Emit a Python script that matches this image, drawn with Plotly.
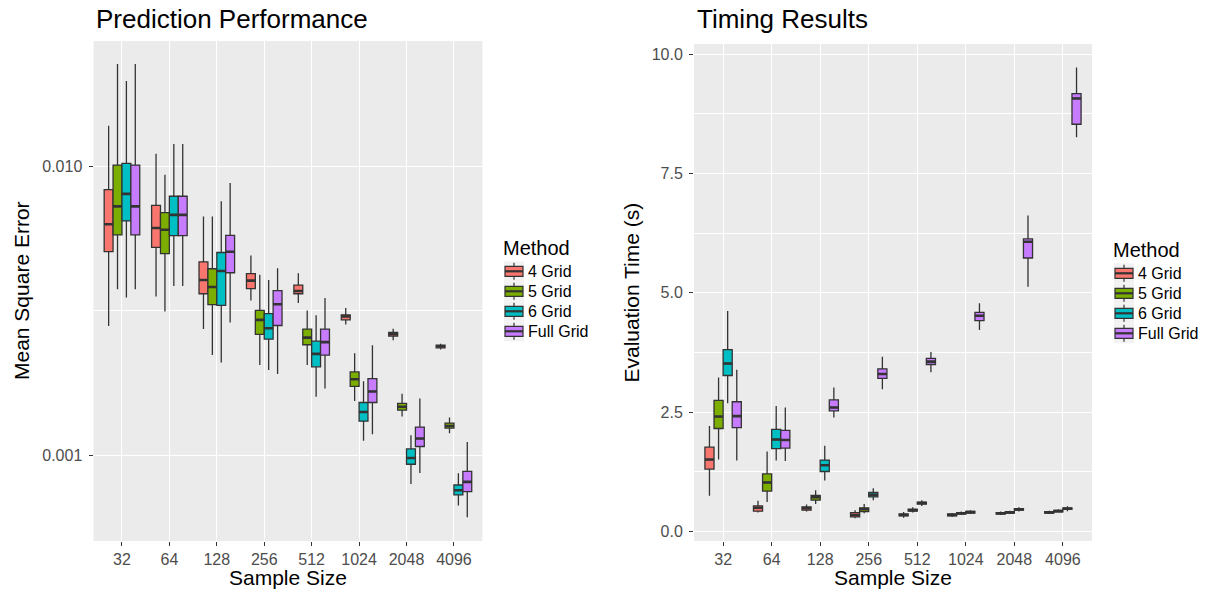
import plotly.graph_objects as go

# ---------------- data ----------------
SIZES = ["32", "64", "128", "256", "512", "1024", "2048", "4096"]
METHODS = ["4 Grid", "5 Grid", "6 Grid", "Full Grid"]
COLORS = ["#F8766D", "#7CAE00", "#00BFC4", "#C77CFF"]

# Mean square error box statistics, one row per method (order of METHODS)
MSE_LOW = [
    [0.00280, 0.00354, 0.00273, 0.00343, 0.00336, 0.00283, 0.00250, 0.00232],
    [0.00375, 0.00314, 0.00222, 0.00205, 0.00205, 0.00154, 0.00136, 0.00119],
    [0.00351, 0.00385, 0.00209, 0.00197, 0.00159, 0.00112, 0.000794, 0.000668],
    [0.00375, 0.00385, 0.00288, 0.00191, 0.00170, 0.00118, 0.000867, 0.000609],
]
MSE_Q1 = [
    [0.00507, 0.00524, 0.00362, 0.00377, 0.00362, 0.00294, 0.00258, 0.00235],
    [0.00579, 0.00499, 0.00332, 0.00262, 0.00241, 0.00173, 0.00143, 0.00124],
    [0.00647, 0.00576, 0.00330, 0.00252, 0.00202, 0.00131, 0.000929, 0.000727],
    [0.00579, 0.00576, 0.00428, 0.00281, 0.00222, 0.00152, 0.00107, 0.000746],
]
MSE_MED = [
    [0.00630, 0.00612, 0.00404, 0.00402, 0.00370, 0.00302, 0.00262, 0.00238],
    [0.00727, 0.00603, 0.00382, 0.00294, 0.00255, 0.00183, 0.00147, 0.00126],
    [0.00803, 0.00679, 0.00434, 0.00275, 0.00224, 0.00141, 0.000976, 0.000755],
    [0.00727, 0.00679, 0.00506, 0.00333, 0.00246, 0.00166, 0.00114, 0.000807],
]
MSE_Q3 = [
    [0.00831, 0.00733, 0.00467, 0.00425, 0.00388, 0.00306, 0.00266, 0.00240],
    [0.01011, 0.00692, 0.00442, 0.00317, 0.00273, 0.00194, 0.00151, 0.00129],
    [0.01024, 0.00788, 0.00503, 0.00309, 0.00248, 0.00152, 0.00105, 0.000787],
    [0.01011, 0.00788, 0.00577, 0.00371, 0.00273, 0.00184, 0.00125, 0.000878],
]
MSE_UP = [
    [0.01383, 0.01106, 0.00670, 0.00491, 0.00426, 0.00323, 0.00274, 0.00243],
    [0.02265, 0.00936, 0.00670, 0.00421, 0.00317, 0.00225, 0.00163, 0.00135],
    [0.01978, 0.01195, 0.00757, 0.00404, 0.00305, 0.00180, 0.00117, 0.000865],
    [0.02265, 0.01195, 0.00876, 0.00444, 0.00350, 0.00240, 0.00157, 0.00111],
]

# Evaluation time (s) box statistics
TIME_LOW = [
    [0.75, 0.40, 0.42, 0.28, 0.29, 0.31, 0.35, 0.37],
    [1.51, 0.62, 0.58, 0.385, 0.40, 0.35, 0.37, 0.40],
    [2.69, 1.49, 1.07, 0.66, 0.54, 0.37, 0.42, 0.43],
    [1.49, 1.48, 2.39, 2.98, 3.34, 4.22, 5.13, 8.26],
]
TIME_Q1 = [
    [1.31, 0.43, 0.45, 0.31, 0.33, 0.33, 0.37, 0.39],
    [2.16, 0.85, 0.66, 0.42, 0.43, 0.37, 0.39, 0.415],
    [3.27, 1.74, 1.26, 0.73, 0.58, 0.39, 0.45, 0.465],
    [2.18, 1.75, 2.53, 3.21, 3.50, 4.42, 5.73, 8.53],
]
TIME_MED = [
    [1.51, 0.50, 0.49, 0.35, 0.35, 0.35, 0.385, 0.405],
    [2.41, 1.03, 0.72, 0.47, 0.45, 0.385, 0.405, 0.43],
    [3.52, 1.93, 1.39, 0.77, 0.60, 0.41, 0.465, 0.48],
    [2.42, 1.92, 2.60, 3.30, 3.56, 4.52, 6.07, 9.07],
]
TIME_Q3 = [
    [1.77, 0.54, 0.52, 0.40, 0.37, 0.37, 0.40, 0.42],
    [2.75, 1.21, 0.76, 0.50, 0.47, 0.40, 0.42, 0.445],
    [3.81, 2.14, 1.50, 0.82, 0.62, 0.425, 0.48, 0.50],
    [2.72, 2.12, 2.76, 3.41, 3.63, 4.59, 6.13, 9.17],
]
TIME_UP = [
    [2.21, 0.65, 0.57, 0.45, 0.41, 0.39, 0.42, 0.44],
    [3.23, 1.68, 0.87, 0.58, 0.51, 0.42, 0.44, 0.47],
    [4.62, 2.63, 1.80, 0.91, 0.66, 0.45, 0.51, 0.53],
    [3.39, 2.60, 3.02, 3.66, 3.76, 4.78, 6.62, 9.72],
]

MSE_TICKS = [0.001, 0.01]
MSE_TICKTEXT = ["0.001", "0.010"]
TIME_TICKS = [0, 2.5, 5, 7.5, 10]
TIME_TICKTEXT = ["0.0", "2.5", "5.0", "7.5", "10.0"]

# ---------------- figure ----------------
W, H = 1216, 598
EDGE = "#333333"
FONT = "Liberation Sans, Arial, sans-serif"
fig = go.Figure()


def add_panel(low, q1, med, q3, up, xa, ya, ag):
    for i, m in enumerate(METHODS):
        fig.add_trace(go.Box(
            x=SIZES, q1=q1[i], median=med[i], q3=q3[i],
            lowerfence=low[i], upperfence=up[i],
            name=m, fillcolor=COLORS[i],
            line=dict(color=EDGE, width=1.3), whiskerwidth=0,
            boxpoints=False, offsetgroup=m, alignmentgroup=ag,
            xaxis=xa, yaxis=ya, showlegend=False, hoverinfo="skip",
        ))
    # thicker median bars (ggplot fatten)
    for i, m in enumerate(METHODS):
        fig.add_trace(go.Box(
            x=SIZES, q1=med[i], median=med[i], q3=med[i],
            lowerfence=med[i], upperfence=med[i],
            name=m, fillcolor="rgba(0,0,0,0)",
            line=dict(color=EDGE, width=2.6), whiskerwidth=0,
            boxpoints=False, offsetgroup=m, alignmentgroup=ag,
            xaxis=xa, yaxis=ya, showlegend=False, hoverinfo="skip",
        ))


add_panel(MSE_LOW, MSE_Q1, MSE_MED, MSE_Q3, MSE_UP, "x", "y", "L")
add_panel(TIME_LOW, TIME_Q1, TIME_MED, TIME_Q3, TIME_UP, "x2", "y2", "R")


def px_x(p):
    return p / W


def px_y(p):
    return 1 - p / H


xcommon = dict(
    type="category", range=[-0.6, 7.6], showgrid=True, gridcolor="white",
    gridwidth=1.2, zeroline=False, showline=False, ticks="outside",
    ticklen=4, tickwidth=1.1, tickcolor=EDGE,
    tickfont=dict(family=FONT, size=16, color="#4D4D4D"),
    fixedrange=True,
)
ycommon = dict(
    showgrid=True, gridcolor="white", gridwidth=1.2, zeroline=False,
    showline=False, ticks="outside", ticklen=4, tickwidth=1.1, tickcolor=EDGE,
    tickfont=dict(family=FONT, size=16, color="#4D4D4D"),
    ticklabelstandoff=3, fixedrange=True,
)

fig.update_layout(
    width=W, height=H,
    margin=dict(l=0, r=0, t=0, b=0),
    paper_bgcolor="white", plot_bgcolor="#EBEBEB",
    font=dict(family=FONT, color="black"),
    showlegend=False,
    boxmode="group", boxgap=0.25, boxgroupgap=0.0,
    xaxis=dict(domain=[px_x(93.5), px_x(482.4)], anchor="y", **xcommon),
    xaxis2=dict(domain=[px_x(694.0), px_x(1092.0)], anchor="y2", **xcommon),
    yaxis=dict(
        domain=[px_y(541), px_y(41)], anchor="x", type="log",
        range=[-3.298, -1.5655], tickmode="array",
        tickvals=MSE_TICKS, ticktext=MSE_TICKTEXT,
        minor=dict(tickmode="array", tickvals=[0.00316228], showgrid=True,
                   gridcolor="white", gridwidth=0.6, ticks=""),
        **ycommon,
    ),
    yaxis2=dict(
        domain=[px_y(541), px_y(44)], anchor="x2",
        range=[-0.195, 10.21], tickmode="array",
        tickvals=TIME_TICKS, ticktext=TIME_TICKTEXT,
        minor=dict(tickmode="array", tickvals=[1.25, 3.75, 6.25, 8.75], showgrid=True,
                   gridcolor="white", gridwidth=0.6, ticks=""),
        **ycommon,
    ),
)

annots = [
    dict(text="Prediction Performance", x=px_x(94), y=px_y(19), xanchor="left",
         yanchor="middle", font=dict(size=26)),
    dict(text="Timing Results", x=px_x(695), y=px_y(19), xanchor="left",
         yanchor="middle", font=dict(size=26)),
    dict(text="Sample Size", x=px_x(288), y=px_y(577), xanchor="center",
         yanchor="middle", font=dict(size=21)),
    dict(text="Sample Size", x=px_x(893), y=px_y(577), xanchor="center",
         yanchor="middle", font=dict(size=21)),
    dict(text="Mean Square Error", x=px_x(21), y=px_y(291), xanchor="center",
         yanchor="middle", textangle=-90, font=dict(size=21)),
    dict(text="Evaluation Time (s)", x=px_x(631), y=px_y(292.5), xanchor="center",
         yanchor="middle", textangle=-90, font=dict(size=21)),
]

# ---- ggplot-style legends (key glyphs + labels) ----
shapes = []
LEGENDS = [(502.3, 248.0), (1112.3, 250.0)]  # (title left x, title centre y) in px
for (lx, ty) in LEGENDS:
    annots.append(dict(text="Method", x=px_x(lx - 1), y=px_y(ty), xanchor="left",
                       yanchor="middle", font=dict(size=20)))
    for i, m in enumerate(METHODS):
        cy = ty + 23.3 + 20.0 * i
        cx = lx + 11.7
        shapes.append(dict(type="rect", xref="paper", yref="paper",
                           x0=px_x(cx - 10), x1=px_x(cx + 10),
                           y0=px_y(cy - 10), y1=px_y(cy + 10),
                           fillcolor="#F2F2F2", line=dict(width=0), layer="above"))
        shapes.append(dict(type="line", xref="paper", yref="paper",
                           x0=px_x(cx), x1=px_x(cx), y0=px_y(cy - 8.5), y1=px_y(cy + 8.5),
                           line=dict(color=EDGE, width=1.2), layer="above"))
        shapes.append(dict(type="rect", xref="paper", yref="paper",
                           x0=px_x(cx - 9), x1=px_x(cx + 9),
                           y0=px_y(cy - 5), y1=px_y(cy + 5),
                           fillcolor=COLORS[i], line=dict(color=EDGE, width=1.2),
                           layer="above"))
        shapes.append(dict(type="line", xref="paper", yref="paper",
                           x0=px_x(cx - 9), x1=px_x(cx + 9), y0=px_y(cy), y1=px_y(cy),
                           line=dict(color=EDGE, width=2.2), layer="above"))
        annots.append(dict(text=m, x=px_x(lx + 23.5), y=px_y(cy + 0.5), xanchor="left",
                           yanchor="middle", font=dict(size=16)))

for a in annots:
    a.update(xref="paper", yref="paper", showarrow=False)
    a["font"].update(color="black", family=FONT)
fig.update_layout(annotations=annots, shapes=shapes)

fig.write_html("out.html")
